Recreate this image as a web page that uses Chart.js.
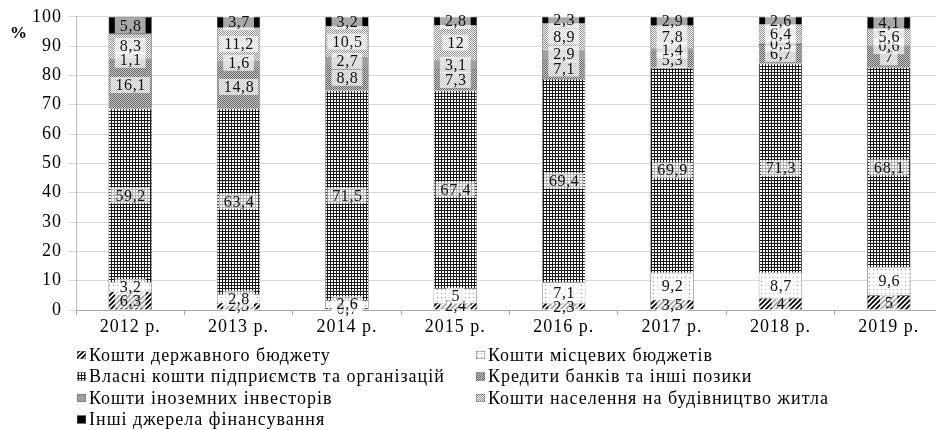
<!DOCTYPE html>
<html>
<head>
<meta charset="utf-8">
<script src="https://cdn.jsdelivr.net/npm/chart.js@4/dist/chart.umd.min.js"></script>
<style>
  html, body { margin: 0; padding: 0; background: #fff; overflow: hidden; }
  #wrap { width: 945px; height: 430px; position: relative; }
</style>
</head>
<body>
<div id="wrap"><canvas id="fundingChart"></canvas></div>
<script>
// chart data, per year, percent
const years = ['2012 р.', '2013 р.', '2014 р.', '2015 р.', '2016 р.', '2017 р.', '2018 р.', '2019 р.'];
const stateBudget = [6.3, 2.5, 0.7, 2.4, 2.3, 3.5, 4, 5];
const localBudgets = [3.2, 2.8, 2.6, 5, 7.1, 9.2, 8.7, 9.6];
const ownFunds = [59.2, 63.4, 71.5, 67.4, 69.4, 69.9, 71.3, 68.1];
const bankCredits = [16.1, 14.8, 8.8, 7.3, 7.1, 5.3, 6.7, 7];
const foreignInvestors = [1.1, 1.6, 2.7, 3.1, 2.9, 1.4, 0.3, 0.6];
const population = [8.3, 11.2, 10.5, 12, 8.9, 7.8, 6.4, 5.6];
const otherSources = [5.8, 3.7, 3.2, 2.8, 2.3, 2.9, 2.6, 4.1];
const seriesNames = [
  'Кошти державного бюджету',
  'Кошти місцевих бюджетів',
  'Власні кошти підприємств та організацій',
  'Кредити банків та інші позики',
  'Кошти іноземних інвесторів',
  'Кошти населення на будівництво житла',
  'Інші джерела фінансування'
];
const yMin = 0, yMax = 100, yStep = 10;

const FONT = "'Liberation Serif', 'Times New Roman', serif";

// little helper for canvas fill patterns
function makePattern(size, draw) {
  const c = document.createElement('canvas');
  c.width = size; c.height = size;
  const g = c.getContext('2d');
  g.fillStyle = '#fff';
  g.fillRect(0, 0, size, size);
  draw(g, size);
  return document.getElementById('fundingChart').getContext('2d').createPattern(c, 'repeat');
}

const hatch = makePattern(5, (g, s) => {
  g.strokeStyle = '#000';
  g.lineWidth = 1.8;
  g.beginPath();
  g.moveTo(-1, s + 1); g.lineTo(s + 1, -1);
  g.moveTo(-1, 1); g.lineTo(1, -1);
  g.moveTo(s - 1, s + 1); g.lineTo(s + 1, s - 1);
  g.stroke();
});
const sparseDots = makePattern(4, (g) => {
  g.fillStyle = '#9a9a9a';
  g.fillRect(1, 1, 1, 1);
});
const grid = makePattern(3, (g, s) => {
  g.fillStyle = '#1a1a1a';
  g.fillRect(0, 0, s, 1);
  g.fillRect(0, 0, 1, s);
});
const denseDots = makePattern(2, (g) => {
  g.fillStyle = '#c8c8c8';
  g.fillRect(0, 0, 2, 2);
  g.fillStyle = '#666';
  g.fillRect(0, 0, 1, 1);
  g.fillRect(1, 1, 1, 1);
});
const lightChecker = makePattern(2, (g) => {
  g.fillStyle = '#8c8c8c';
  g.fillRect(0, 0, 1, 1);
  g.fillRect(1, 1, 1, 1);
});

const fills = [hatch, sparseDots, grid, denseDots, '#a0a0a0', lightChecker, '#000'];
const values = [stateBudget, localBudgets, ownFunds, bankCredits, foreignInvestors, population, otherSources];

const datasets = values.map((arr, i) => ({
  label: seriesNames[i],
  data: arr,
  backgroundColor: fills[i],
  borderColor: '#333',
  borderWidth: 0.6,
  barPercentage: 0.4,
  categoryPercentage: 1
}));

// the original text is a bit spaced out, like Word/Excel output
const spacingPlugin = {
  id: 'letterSpacing',
  beforeDraw(chart) { chart.ctx.letterSpacing = '1px'; }
};

// data labels with semi-transparent box
const labelPlugin = {
  id: 'segLabels',
  afterDatasetsDraw(chart) {
    const ctx = chart.ctx;
    ctx.save();
    ctx.letterSpacing = '0.6px';
    ctx.font = '16px ' + FONT;
    ctx.textAlign = 'center';
    ctx.textBaseline = 'middle';
    chart.data.datasets.forEach((ds, i) => {
      const meta = chart.getDatasetMeta(i);
      meta.data.forEach((bar, j) => {
        const txt = String(ds.data[j]).replace('.', ',');
        const cx = bar.x;
        const cy = (bar.y + bar.base) / 2;
        const w = ctx.measureText(txt).width + 9;
        ctx.fillStyle = 'rgba(255,255,255,0.66)';
        ctx.fillRect(cx - w / 2, cy - 8, w, 16);
        ctx.fillStyle = '#111';
        ctx.fillText(txt, cx + 0.5, cy + 1);
      });
    });
    ctx.restore();
  }
};

// two-column legend under the axis, plus the "%" mark
const legendPlugin = {
  id: 'twoColLegend',
  afterDraw(chart) {
    const ctx = chart.ctx;
    ctx.save();
    ctx.letterSpacing = '1px';
    ctx.font = '18px ' + FONT;
    ctx.textBaseline = 'middle';
    ctx.fillStyle = '#000';
    const colX = [77, 476];
    const rowY = [355, 376.5, 398, 419.5];
    seriesNames.forEach((name, i) => {
      const x = colX[i % 2];
      const y = rowY[Math.floor(i / 2)];
      ctx.fillStyle = fills[i];
      ctx.fillRect(x, y - 4, 9, 8);
      ctx.strokeStyle = '#666';
      ctx.lineWidth = 0.5;
      ctx.strokeRect(x + 0.25, y - 3.75, 8.5, 7.5);
      ctx.fillStyle = '#000';
      ctx.fillText(name, x + 12, y + 1);
    });
    ctx.font = 'bold 17px ' + FONT;
    ctx.textAlign = 'center';
    ctx.fillText('%', 19, 34);
    ctx.restore();
  }
};

new Chart(document.getElementById('fundingChart'), {
  type: 'bar',
  data: { labels: years, datasets: datasets },
  options: {
    responsive: true,
    maintainAspectRatio: false,
    animation: false,
    layout: { padding: { top: 16, right: 2, left: 0, bottom: 0 } },
    plugins: {
      legend: { display: false },
      tooltip: { enabled: false }
    },
    scales: {
      x: {
        stacked: true,
        afterFit(scale) { scale.height = 120; },
        grid: { drawOnChartArea: false, drawTicks: true, tickLength: 5, color: '#a6a6a6' },
        border: { color: '#a6a6a6' },
        ticks: { color: '#000', font: { family: FONT, size: 18 }, padding: 1 }
      },
      y: {
        stacked: true,
        min: yMin,
        max: yMax,
        afterFit(scale) { scale.width = 76; },
        ticks: { stepSize: yStep, color: '#000', font: { family: FONT, size: 18 }, padding: 6 },
        grid: { color: '#d9d9d9', tickLength: 8 },
        border: { color: '#bfbfbf' }
      }
    }
  },
  plugins: [spacingPlugin, labelPlugin, legendPlugin]
});
</script>
</body>
</html>
